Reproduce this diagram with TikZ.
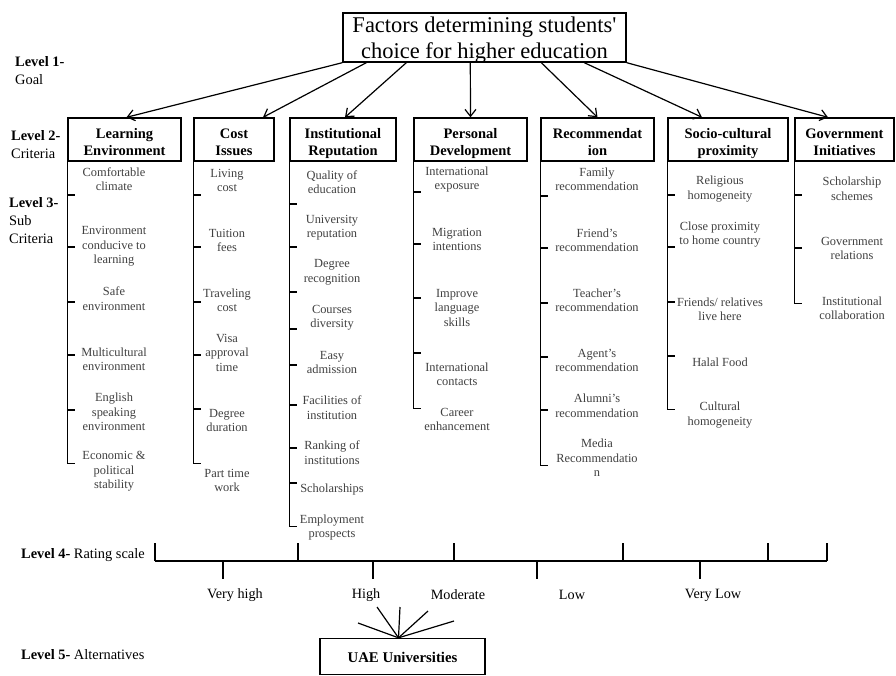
\documentclass[tikz,border=0pt]{standalone}
\usepackage{fontspec}
\setmainfont{Liberation Serif}
\usetikzlibrary{arrows.meta, positioning}

\begin{document}
\begin{tikzpicture}[
  x=1pt, y=-1pt,
  goal/.style={draw, line width=1.4pt, font=\fontsize{22.5}{26}\selectfont, align=center, inner sep=0pt, minimum width=283pt, text height=45.5pt, text depth=3.5pt},
  crit/.style={draw, line width=1.4pt, font=\bfseries\fontsize{14.5}{17}\selectfont, align=center, inner sep=0pt, text height=37.6pt, text depth=5.4pt},
  sub/.style={font=\fontsize{12.4}{14.5}\selectfont, align=center, text=black!75, inner sep=0pt},
  lvl/.style={font=\fontsize{14.4}{18}\selectfont, align=left, anchor=west, inner sep=0pt},
  rate/.style={font=\fontsize{14.2}{17}\selectfont, inner sep=0pt},
  edge/.style={-{Straight Barb[length=7pt, width=11pt]}, line width=1.2pt},
  brack/.style={line width=1.3pt},
  scale line/.style={line width=1.2pt}
]
\useasboundingbox (0,0) rectangle (896,675);

\node[goal] (title) at (484.5,37.5) {Factors determining students\textquotesingle\\choice for higher education};

\node[crit, minimum width=113pt] (le) at (124.5,139.5) {Learning\\Environment};
\node[crit, minimum width=80pt] (ci) at (234,139.5) {Cost\\Issues};
\node[crit, minimum width=106pt] (ir) at (343,139.5) {Institutional\\Reputation};
\node[crit, minimum width=113pt] (pd) at (470.5,139.5) {Personal\\Development};
\node[crit, minimum width=113pt] (rec) at (597.5,139.5) {Recommendat\\ion};
\node[crit, minimum width=120pt] (sc) at (728,139.5) {Socio-cultural\\proximity};
\node[crit, minimum width=99pt] (gi) at (844.5,139.5) {Government\\Initiatives};

\draw[edge] (title.south west) -- ([xshift=2pt]le.north);
\draw[edge] ([xshift=24pt]title.south west) -- ([xshift=29pt]ci.north);
\draw[edge] ([xshift=64pt]title.south west) -- ([xshift=2pt]ir.north);
\draw[edge] ([xshift=128pt]title.south west) -- (pd.north);
\draw[edge] ([xshift=199pt]title.south west) -- (rec.north);
\draw[edge] ([xshift=242pt]title.south west) -- ([xshift=-26pt]sc.north);
\draw[edge] (title.south east) -- ([xshift=-16.5pt]gi.north);

\node[lvl] (lvl1) at (15,70.5) {\textbf{Level 1-}\\Goal};
\node[lvl] (lvl2) at (11,144.5) {\textbf{Level 2-}\\Criteria};
\node[lvl] (lvl3) at (9,220.5) {\textbf{Level 3-}\\Sub\\Criteria};
\node[lvl] (lvl4) at (21,555) {\textbf{Level 4-} Rating scale};
\node[lvl] (lvl5) at (21,655) {\textbf{Level 5-} Alternatives};

\foreach \y/\t [count=\i] in {179/{Comfortable\\climate}, 246.5/{Environment\\conducive to\\learning}, 298.5/{Safe\\environment}, 359.5/{Multicultural\\environment}, 412/{English\\speaking\\environment}, 471.5/{Economic \&\\political\\stability}}
  \node[sub] (le-\i) at (114,\y) {\t};
\draw[brack] (le.south west) -- ++(0,302) -- ++(8,0);
\foreach \y in {195,247,302,355,410}
  \draw[brack] (le.south west |- 0,\y) -- ++(8,0);

\foreach \y/\t [count=\i] in {180.5/{Living\\cost}, 240.5/{Tuition\\fees}, 300.5/{Traveling\\cost}, 352.5/{Visa\\approval\\time}, 420.5/{Degree\\duration}, 480.5/{Part time\\work}}
  \node[sub] (ci-\i) at (227,\y) {\t};
\draw[brack] (ci.south west) -- ++(0,302) -- ++(8,0);
\foreach \y in {195,247,302,355,409}
  \draw[brack] (ci.south west |- 0,\y) -- ++(8,0);

\foreach \y/\t [count=\i] in {182/{Quality of\\education}, 227.5/{University\\reputation}, 272.5/{Degree\\recognition}, 317.5/{Courses\\diversity}, 362.5/{Easy\\admission}, 407.5/{Facilities of\\institution}, 452.5/{Ranking of\\institutions}, 490/{Scholarships}, 527.5/{Employment\\prospects}}
  \node[sub] (ir-\i) at (332,\y) {\t};
\draw[brack] (ir.south west) -- ++(0,365) -- ++(8,0);
\foreach \y in {204,247,292,329,365,405,448,483}
  \draw[brack] (ir.south west |- 0,\y) -- ++(8,0);

\foreach \y/\t [count=\i] in {179.5/{International\\exposure}, 239.5/{Migration\\intentions}, 307.5/{Improve\\language\\skills}, 374.5/{International\\contacts}, 419.5/{Career\\enhancement}}
  \node[sub] (pd-\i) at (457,\y) {\t};
\draw[brack] (pd.south west) -- ++(0,247) -- ++(8,0);
\foreach \y in {192,244,298,353}
  \draw[brack] (pd.south west |- 0,\y) -- ++(8,0);

\foreach \y/\t [count=\i] in {179.5/{Family\\recommendation}, 240.5/{Friend’s\\recommendation}, 300.5/{Teacher’s\\recommendation}, 360.5/{Agent’s\\recommendation}, 405.5/{Alumni’s\\recommendation}, 458/{Media\\Recommendatio\\n}}
  \node[sub] (rec-\i) at (597,\y) {\t};
\draw[brack] (rec.south west) -- ++(0,304) -- ++(8,0);
\foreach \y in {196,248,303,357,410}
  \draw[brack] (rec.south west |- 0,\y) -- ++(8,0);

\foreach \y/\t [count=\i] in {189/{Religious\\homogeneity}, 234.5/{Close proximity\\to home country}, 309.5/{Friends/ relatives\\live here}, 362/{Halal Food}, 415/{Cultural\\homogeneity}}
  \node[sub] (sc-\i) at (720,\y) {\t};
\draw[brack] (sc.south west) -- ++(0,248) -- ++(8,0);
\foreach \y in {195,247,302,356}
  \draw[brack] (sc.south west |- 0,\y) -- ++(8,0);

\foreach \y/\t [count=\i] in {189/{Scholarship\\schemes}, 248.5/{Government\\relations}, 308.5/{Institutional\\collaboration}}
  \node[sub] (gi-\i) at (852,\y) {\t};
\draw[brack] (gi.south west) -- ++(0,142) -- ++(8,0);
\foreach \y in {195,248}
  \draw[brack] (gi.south west |- 0,\y) -- ++(8,0);

\coordinate (rs-l) at (155,561);
\coordinate (rs-r) at (827,561);
\draw[scale line] (rs-l) -- (rs-r);
\foreach \x in {155,298,454,623,768,827}
  \draw[scale line] (\x,561) -- ++(0,-18);
\foreach \x in {223,373,537,700}
  \draw[scale line] (\x,561) -- ++(0,18);

\node[rate] (vh) at (235,595) {Very high};
\node[rate] (hi) at (366,595) {High};
\node[rate] (mo) at (458,595) {Moderate};
\node[rate] (lo) at (572,595) {Low};
\node[rate] (vl) at (713,595) {Very Low};

\node[draw, line width=1.4pt, font=\bfseries\fontsize{14.8}{17}\selectfont, inner sep=0pt, minimum width=165pt, text height=23.5pt, text depth=12.5pt] (uae) at (402.5,656.5) {UAE Universities};
\foreach \x/\y in {358/623, 377/607, 400/607, 428/611, 454/621}
  \draw[scale line] ([xshift=-4pt]uae.north) -- (\x,\y);
\end{tikzpicture}
\end{document}
